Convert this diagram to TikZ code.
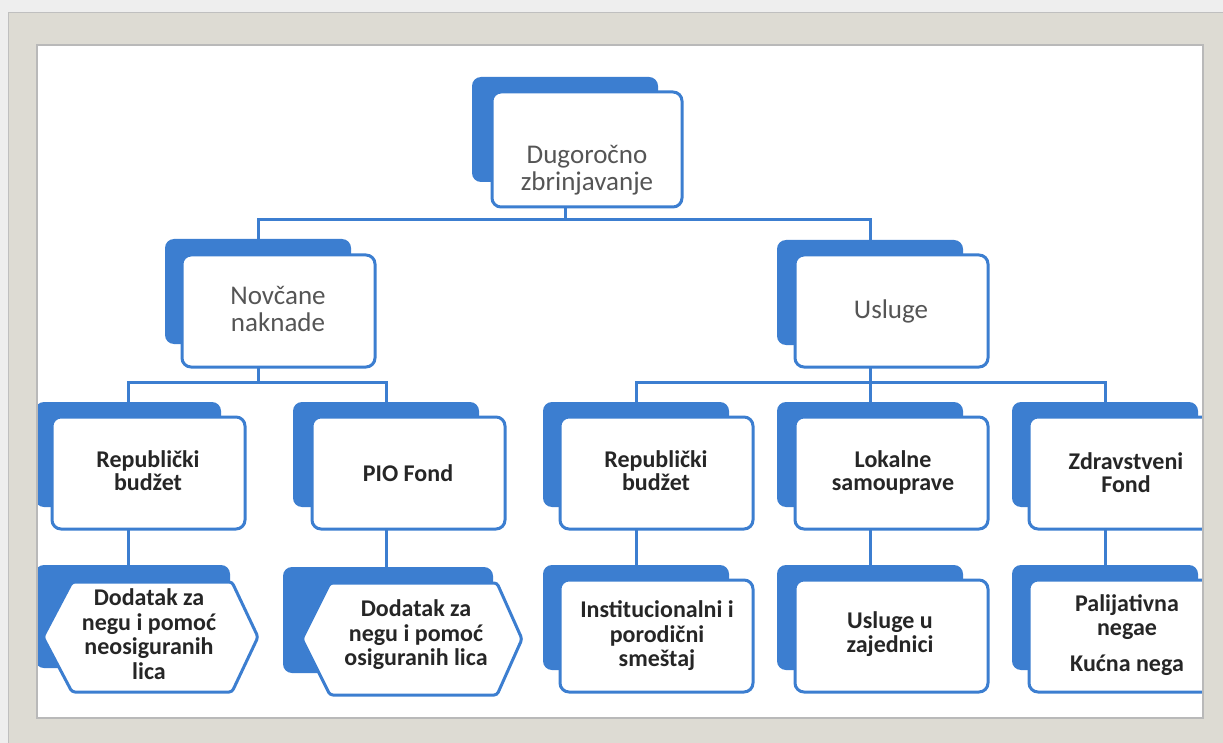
\documentclass[tikz,border=0pt]{standalone}
\usepackage{fontspec}
\setmainfont{Carlito}
\definecolor{myblue}{RGB}{60,126,208}
\definecolor{framec}{RGB}{221,219,211}
\definecolor{bgc}{RGB}{238,238,238}
\definecolor{txtA}{RGB}{85,85,85}
\definecolor{txtB}{RGB}{38,38,38}
\begin{document}
\begin{tikzpicture}[x=1pt,y=-1pt,
  back/.style={fill=myblue, rounded corners=9pt, minimum width=186pt, minimum height=105pt, anchor=north west, inner sep=0pt, outer sep=0pt},
  front/.style={fill=white, draw=myblue, line width=3pt, rounded corners=9pt, minimum width=193pt, minimum height=112pt, anchor=north west, inner sep=0pt, outer sep=0pt},
  hexbox/.style={fill=white, draw=myblue, line width=3pt, rounded corners=3pt},
  tA/.style={font=\fontsize{27}{27}\selectfont, text=txtA, align=center, inner sep=0pt},
  tB/.style={font=\fontsize{24}{24.5}\selectfont\bfseries, text=txtB, align=center, inner sep=0pt},
  conn/.style={draw=myblue, line width=3pt}]
\fill[bgc] (0,0) rectangle (1223,743);
\useasboundingbox (0,0) rectangle (1223,743);
\fill[framec] (8,13) rectangle (1223,743);
\draw[gray!50, line width=1pt] (8,743) -- (8,13) -- (1223,13);
\fill[white] (37,45) rectangle (1203,718);
\begin{scope}
\clip (37,45) rectangle (1203,718);
% back boxes
\node[back] (bTop) at (472,77) {};
\node[back] (bNov) at (165,239) {};
\node[back] (bUsl) at (777,240) {};
\node[back] (bRb1) at (35,402) {};
\node[back] (bPio) at (293,402) {};
\node[back] (bRb2) at (543,402) {};
\node[back] (bLok) at (777,402) {};
\node[back] (bZdr) at (1012,402) {};
\node[back, minimum width=195pt, minimum height=103pt] (bDod1) at (35,565) {};
\node[back, minimum width=210pt, minimum height=106pt] (bDod2) at (283,567) {};
\node[back] (bIns) at (543,565) {};
\node[back] (bUsz) at (777,565) {};
\node[back] (bPal) at (1012,565) {};
% front boxes
\node[front, minimum width=190pt, minimum height=115pt] (fTop) at (492,92) {};
\node[front] (fNov) at (182,255) {};
\node[front] (fUsl) at (795,255) {};
\node[front] (fRb1) at (52,417) {};
\node[front] (fPio) at (312,417) {};
\node[front] (fRb2) at (560,417) {};
\node[front] (fLok) at (795,417) {};
\node[front] (fZdr) at (1029,417) {};
\node[front] (fIns) at (560,580) {};
\node[front] (fUsz) at (795,580) {};
\node[front] (fPal) at (1029,580) {};
\draw[hexbox] (43,637) coordinate (hA) -- (72,582) -- (232,582) -- (258,637) -- (232,692) -- (72,692) -- cycle;
\draw[hexbox] (302,639) coordinate (hB) -- (330,583) -- (497,583) -- (522,639) -- (497,695) -- (330,695) -- cycle;
% connectors
\draw[conn] (bTop.center |- fTop.south) -- ++(0,13) -| (bNov.north);
\draw[conn] (bTop.center |- fTop.south) -- ++(0,13) -| (bUsl.north);
\draw[conn] (bNov.center |- fNov.south) -- ++(0,15) -| (bRb1.north);
\draw[conn] (bNov.center |- fNov.south) -- ++(0,15) -| (bPio.north);
\draw[conn] (bUsl.center |- fUsl.south) -- ++(0,15) -| (bRb2.north);
\draw[conn] (bUsl.center |- fUsl.south) -- ++(0,15) -| (bLok.north);
\draw[conn] (bUsl.center |- fUsl.south) -- ++(0,15) -| (bZdr.north);
\draw[conn] (bRb1.center |- fRb1.south) -- (bRb1.center |- bDod1.north);
\draw[conn] (bPio.center |- fPio.south) -- (bPio.center |- bDod2.north);
\draw[conn] (bRb2.center |- fRb2.south) -- (bRb2.center |- bIns.north);
\draw[conn] (bLok.center |- fLok.south) -- (bLok.center |- bUsz.north);
\draw[conn] (bZdr.center |- fZdr.south) -- (bZdr.center |- bPal.north);
% texts
\node[tA] (tTop) at (587,170) {Dugoročno\\zbrinjavanje};
\node[tA] (tNov) at (278,309) {Novčane\\naknade};
\node[tA] (tUsl) at (891,311) {Usluge};
\node[tB, font=\fontsize{24}{23}\selectfont\bfseries] (tRb1) at (148,471) {Republički\\budžet};
\node[tB] (tPio) at (408,473) {PIO Fond};
\node[tB, font=\fontsize{24}{23}\selectfont\bfseries] (tRb2) at (656,471) {Republički\\budžet};
\node[tB, font=\fontsize{24}{23}\selectfont\bfseries] (tLok) at (893,472) {Lokalne\\samouprave};
\node[tB, font=\fontsize{24}{23}\selectfont\bfseries] (tZdr) at (1126,473) {Zdravstveni\\Fond};
\node[tB] (tDod1) at (149,634) {Dodatak za\\negu i pomoć\\neosiguranih\\lica};
\node[tB] (tDod2) at (416,635) {Dodatak za\\negu i pomoć\\osiguranih lica};
\node[tB] (tIns) at (657,636) {Institucionalni i\\porodični\\smeštaj};
\node[tB] (tUsz) at (890,634) {Usluge u\\zajednici};
\node[tB] (tPal) at (1127,635) {Palijativna\\negae\\[11pt]Kućna nega};
\end{scope}
\draw[gray!55, line width=1.2pt] (37,45) rectangle (1203,718);
\end{tikzpicture}
\end{document}
